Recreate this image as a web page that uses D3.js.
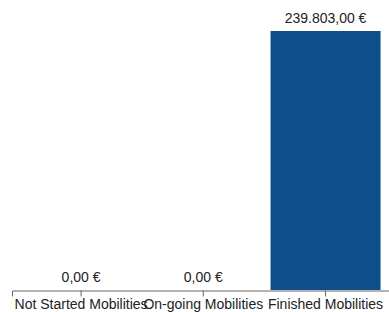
<!DOCTYPE html>
<html>
<head>
<meta charset="utf-8">
<script src="https://cdn.jsdelivr.net/npm/d3@7"></script>
<style>
  body { margin: 0; background: #fff; }
  svg { display: block; font-family: "Liberation Sans", Arial, sans-serif; }
</style>
</head>
<body>
<div id="chart"></div>
<script>
const categories = ["Not Started Mobilities", "On-going Mobilities", "Finished Mobilities"];
const amounts = [0, 0, 239803];

const width = 389, height = 312;
const baseY = 290, topY = 31;

const fmt = v => v.toLocaleString("de-DE", { minimumFractionDigits: 2, maximumFractionDigits: 2 }) + " €";

const x = d3.scaleBand()
  .domain(categories)
  .range([12, 394.6])
  .paddingInner(0.1)
  .paddingOuter(0.115);

const y = d3.scaleLinear()
  .domain([0, d3.max(amounts)])
  .range([baseY, topY]);

const svg = d3.select("#chart").append("svg")
  .attr("width", width)
  .attr("height", height);

const data = categories.map((c, i) => ({ cat: c, val: amounts[i] }));

svg.selectAll("rect.bar")
  .data(data)
  .join("rect")
  .attr("class", "bar")
  .attr("x", d => x(d.cat))
  .attr("y", d => y(d.val))
  .attr("width", x.bandwidth())
  .attr("height", d => baseY - y(d.val))
  .attr("fill", "#0e4f8b");

svg.selectAll("text.val")
  .data(data)
  .join("text")
  .attr("class", "val")
  .attr("x", d => x(d.cat) + x.bandwidth() / 2)
  .attr("y", d => y(d.val) - 8.5)
  .attr("text-anchor", "middle")
  .attr("font-size", 14)
  .attr("fill", "#222")
  .text(d => fmt(d.val));

const axis = svg.append("g")
  .attr("transform", `translate(0,${baseY + 0.5})`)
  .call(d3.axisBottom(x).tickSizeOuter(6));

axis.select(".domain").attr("stroke", "#666");
axis.selectAll(".tick line").attr("stroke", "#666");
axis.selectAll(".tick text")
  .attr("font-size", 14)
  .attr("font-family", "Liberation Sans, Arial, sans-serif")
  .attr("fill", "#222");
</script>
</body>
</html>
